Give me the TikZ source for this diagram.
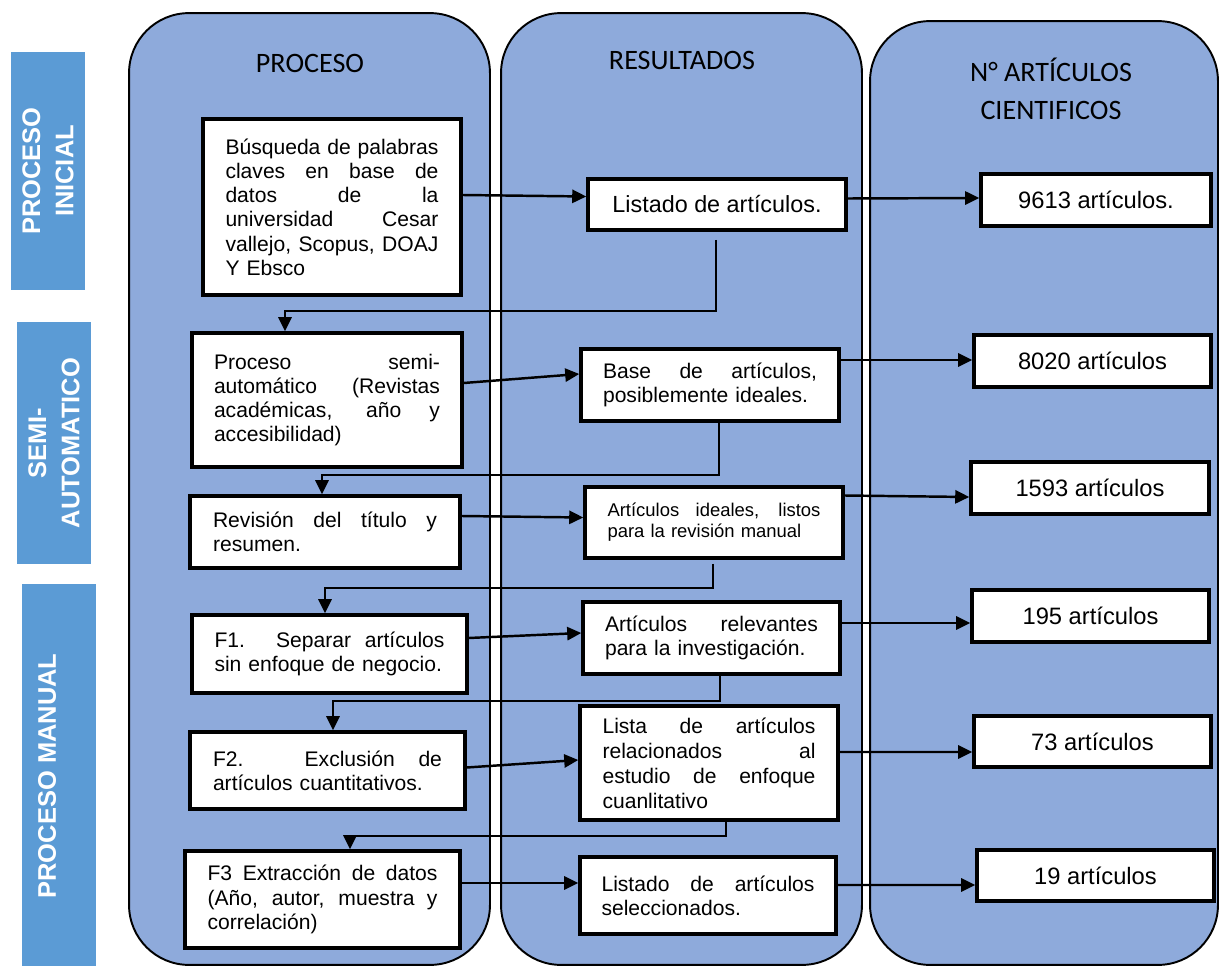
\documentclass[tikz,border=0pt]{standalone}
\usepackage{fontspec}
\setmainfont{Liberation Sans}
\newfontfamily\hdrfont{Carlito}
\usetikzlibrary{arrows.meta,calc}
\definecolor{lanefill}{HTML}{8EAADB}
\definecolor{phasefill}{HTML}{5B9BD5}
\newcommand{\jl}[1]{\makebox[\linewidth][s]{\spaceskip=0pt\xspaceskip=0pt\relax #1}}

\begin{document}
\begin{tikzpicture}[x=0.02cm,y=-0.02cm]
    \tikzset{lane/.style= {draw, rectangle, fill=lanefill
    , line width=1.1pt, rounded corners=1.2cm
    , minimum width=7.22cm, minimum height=19.04cm
      },
    phase/.style= {rectangle, fill=phasefill, rotate=90
    , text=white, align=center, minimum height=1.48cm
    , font=\fontsize{14.5}{19}\selectfont\bfseries
      },
    lanehead/.style= {align=center
    , font=\hdrfont\fontsize{16}{22}\selectfont
      },
    procbox/.style= {draw, rectangle, fill=white
    , line width=2pt, inner sep=0pt, align=left
    , font=\fontsize{12}{13.8}\selectfont
      },
    numbox/.style= {procbox, align=center
    , minimum width=4.74cm, minimum height=1.04cm
    , font=\fontsize{13.5}{15}\selectfont
      },
    arr/.style= {draw, line width=1.4pt
    , -{Triangle[length=8pt,width=7.5pt]}
      }
    }

\useasboundingbox (0,0) rectangle (1220,966);

\node [phase, minimum width=4.76cm] (pinicial) at (48,171) {PROCESO\\INICIAL};
\node [phase, minimum width=4.84cm] (psemi) at (54,443) {SEMI-\\AUTOMATICO};
\node [phase, minimum width=7.7cm] (pmanual) at (59,776) {\raisebox{13.6pt}{PROCESO MANUAL}};

\node [lane] (lproceso) at (309.5,489) {};
\node [lane] (lresult) at (681.5,489) {};
\node [lane, minimum width=6.96cm, minimum height=18.88cm] (lnum) at (1044,493) {};

\node [lanehead] (hproceso) at (310,63) {PROCESO};
\node [lanehead] (hresult) at (682,60) {RESULTADOS};
\node [lanehead] (hnum) at (1051,89) {N° ARTÍCULOS\\CIENTIFICOS};

\node [procbox, minimum width=5.16cm, minimum height=3.52cm, text width=4.26cm] (busqueda) at (332,207)
  {\jl{Búsqueda de palabras}\\\jl{claves en base de}\\\jl{datos de la}\\\jl{universidad Cesar}\\\jl{vallejo, Scopus, DOAJ}\\Y Ebsco};
\node [procbox, minimum width=5.4cm, minimum height=2.68cm, text width=4.52cm] (semiauto) at (327,400)
  {\jl{Proceso semi-}\\\jl{automático (Revistas}\\\jl{académicas, año y}\\accesibilidad)};
\node [procbox, minimum width=5.4cm, minimum height=1.44cm, text width=4.48cm] (revision) at (325,532)
  {\jl{Revisión del título y}\\resumen.};
\node [procbox, minimum width=5.5cm, minimum height=1.56cm, text width=4.6cm] (filtro1) at (329.5,654)
  {\jl{F1. Separar artículos}\\sin enfoque de negocio.};
\node [procbox, minimum width=5.5cm, minimum height=1.54cm, text width=4.58cm] (filtro2) at (327.5,770.5)
  {\jl{F2. Exclusión de}\\artículos cuantitativos.};
\node [procbox, minimum width=5.5cm, minimum height=1.94cm, text width=4.6cm] (filtro3) at (322.5,899.5)
  {\jl{F3 Extracción de datos}\\\jl{(Año, autor, muestra y}\\correlación)};

\node [procbox, align=center, minimum width=5.16cm, minimum height=1.02cm, font=\fontsize{13.3}{15}\selectfont] (listado) at (717,204.5)
  {Listado de artículos.};
\node [procbox, minimum width=5.16cm, minimum height=1.44cm, text width=4.28cm] (base) at (710,385)
  {\jl{Base de artículos,}\\posiblemente ideales.};
\node [procbox, minimum width=5.16cm, minimum height=1.42cm, text width=4.26cm, font=\fontsize{10.5}{12}\selectfont] (ideales) at (714,522.5)
  {\jl{Artículos ideales, listos}\\para la revisión manual};
\node [procbox, minimum width=5.14cm, minimum height=1.44cm, text width=4.26cm] (relevantes) at (711.5,638)
  {\jl{Artículos relevantes}\\para la investigación.};
\node [procbox, minimum width=5.16cm, minimum height=2.28cm, text width=4.26cm, font=\fontsize{12}{14.2}\selectfont] (relacion) at (709,763)
  {\jl{Lista de artículos}\\\jl{relacionados al}\\\jl{estudio de enfoque}\\cuanlitativo};
\node [procbox, minimum width=5.12cm, minimum height=1.54cm, text width=4.26cm] (selecc) at (708,895.5)
  {\jl{Listado de artículos}\\seleccionados.};

\node [numbox, minimum width=4.6cm] (n9613) at (1096,200) {9613 artículos.};
\node [numbox] (n8020) at (1092.5,361) {8020 artículos};
\node [numbox, minimum width=4.76cm] (n1593) at (1090,488) {1593 artículos};
\node [numbox] (n195) at (1090.5,616) {195 artículos};
\node [numbox, minimum height=1.02cm] (n73) at (1092.5,741.5) {73 artículos};
\node [numbox, minimum height=1.02cm] (n19) at (1095.5,875.5) {19 artículos};

\draw[arr] ($(busqueda.east)+(0,-12)$) -- ($(listado.west)+(0,-8)$);
\draw[arr] ($(listado.east)+(0,-6)$) -- ($(n9613.west)+(0,-2)$);
\draw[arr] ($(semiauto.east)+(0,-17)$) -- ($(base.west)+(0,-11)$);
\draw[arr] ($(base.east)+(0,-25)$) -- ($(n8020.west)+(0,-1)$);
\draw[arr] ($(revision.east)+(0,-16)$) -- ($(ideales.west)+(0,-5)$);
\draw[arr] ($(ideales.east)+(0,-27)$) -- ($(n1593.west)+(0,9)$);
\draw[arr] ($(filtro1.east)+(0,-16)$) -- ($(relevantes.west)+(0,-5)$);
\draw[arr] ($(relevantes.east)+(0,-15)$) -- ($(n195.west)+(0,7)$);
\draw[arr] ($(filtro2.east)+(0,-3)$) -- ($(relacion.west)+(0,-3)$);
\draw[arr] ($(relacion.east)+(0,-11)$) -- ($(n73.west)+(0,10.5)$);
\draw[arr] ($(filtro3.east)+(0,-16.5)$) -- ($(selecc.west)+(0,-12.5)$);
\draw[arr] ($(selecc.east)+(0,-10.5)$) -- ($(n19.west)+(0,9.5)$);

\draw[arr] ($(listado.south)+(-1,8)$) -- ++(0,71) -| ($(semiauto.north)+(-42,0)$);
\draw[arr] ($(base.south)+(9,0)$) -- ++(0,52) -| ($(revision.north)+(-3,0)$);
\draw[arr] ($(ideales.south)+(-1,4)$) -- ++(0,24) -| ($(filtro1.north)+(-4.5,0)$);
\draw[arr] ($(relevantes.south)+(8.5,0)$) -- ++(0,25) -| ($(filtro2.north)+(5.5,0)$);
\draw[arr] ($(relacion.south)+(17,0)$) -- ++(0,14) -| ($(filtro3.north)+(27.5,0)$);
\end{tikzpicture}
\end{document}
